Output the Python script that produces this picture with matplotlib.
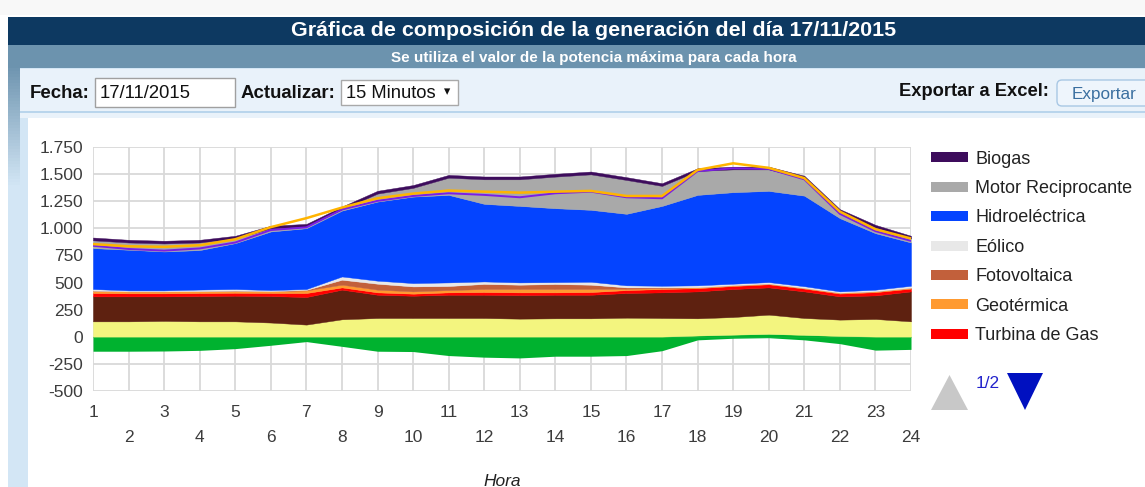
import matplotlib
matplotlib.use('Agg')
import matplotlib.pyplot as plt
from matplotlib.patches import Rectangle, Polygon, FancyBboxPatch
from matplotlib.lines import Line2D
from matplotlib.transforms import IdentityTransform
from matplotlib.ticker import FuncFormatter
from matplotlib.colors import to_rgb

W, H = 1145, 487
plt.rcParams['font.family'] = ['Liberation Sans', 'DejaVu Sans']

# ---------------- data ----------------
horas = list(range(1, 25))
intercambio_neg = [-135, -135, -133, -127, -111, -80, -46, -90, -135, -138, -175, -190,
                   -197, -181, -181, -175, -130, -30, -15, -10, -30, -65, -125, -118]
intercambio_pos = [0, 0, 0, 0, 0, 0, 0, 0, 0, 0, 0, 0,
                   0, 0, 0, 0, 0, 10, 18, 25, 16, 6, 0, 0]
serie_amarilla = [141, 141, 145, 141, 141, 130, 111, 160, 172, 172, 172, 172,
                  166, 169, 169, 175, 172, 159, 163, 178, 156, 151, 163, 141]
serie_marron = [231, 231, 227, 234, 237, 245, 255, 274, 215, 206, 215, 215,
                218, 218, 218, 228, 237, 249, 259, 252, 246, 215, 218, 277]
turbina_gas = [31, 28, 28, 28, 27, 28, 37, 21, 22, 19, 22, 25,
               25, 22, 25, 27, 31, 30, 28, 29, 26, 26, 30, 26]
geotermica = [22, 18, 18, 17, 20, 17, 24, 25, 25, 21, 21, 28,
              31, 31, 28, 12, 8, 8, 7, 6, 6, 8, 8, 8]
fotovoltaica = [0, 0, 0, 0, 0, 0, 5, 46, 55, 46, 38, 47,
                40, 46, 40, 13, 7, 0, 0, 0, 0, 0, 0, 0]
eolico = [15, 9, 9, 15, 15, 10, 8, 30, 28, 31, 33, 23,
          21, 18, 27, 19, 15, 18, 14, 14, 16, 12, 15, 18]
hidroelectrica = [378, 376, 360, 365, 424, 542, 562, 609, 731, 799, 809, 717,
                  707, 683, 665, 661, 738, 836, 846, 843, 837, 677, 522, 400]
motor_reciprocante = [72, 67, 74, 70, 43, 28, 15, 12, 74, 81, 159, 227,
                      246, 292, 328, 313, 185, 221, 211, 199, 159, 58, 52, 37]
biogas = [26, 25, 25, 25, 25, 25, 25, 25, 26, 26, 26, 26,
          26, 26, 26, 26, 25, 25, 25, 25, 25, 25, 25, 25]
linea_morada = [840, 810, 795, 815, 870, 985, 1010, 1175, 1255, 1300, 1325, 1310,
                1288, 1325, 1340, 1288, 1279, 1530, 1556, 1550, 1454, 1135, 975, 885]
linea_dorada = [855, 835, 830, 845, 900, 1012, 1095, 1193, 1279, 1322, 1350, 1340,
                1331, 1340, 1347, 1300, 1300, 1541, 1602, 1560, 1465, 1156, 993, 907]

leyenda_nombres = ['Biogas', 'Motor Reciprocante', 'Hidroeléctrica', 'Eólico',
                   'Fotovoltaica', 'Geotérmica', 'Turbina de Gas']
leyenda_colores = ['#3d0c5c', '#a9a9a9', '#0444ff', '#e8e8e8',
                   '#c2603b', '#ff9a30', '#ff0000']
y_ticks = [-500, -250, 0, 250, 500, 750, 1000, 1250, 1500, 1750]

C_VERDE = '#00b22f'
C_AMARILLO = '#f3f57f'
C_MARRON = '#5e2110'

fig = plt.figure(figsize=(W / 100, H / 100), dpi=100)
fig.patch.set_facecolor('white')
ID = IdentityTransform()


def rect(x, y, w, h, color, z=-10, **kw):
    fig.add_artist(Rectangle((x, H - y - h), w, h, transform=ID, facecolor=color,
                             edgecolor=kw.pop('ec', 'none'), lw=kw.pop('lw', 0),
                             zorder=z, **kw))


# ---------------- page decoration ----------------
rect(0, 0, W, 15, '#f8f8f8')
rect(8, 17, W, 28, '#0d3961')
rect(8, 45, W, 23, '#6c93ae')
rect(8, 68, W, H - 68, '#d3e6f5')
# left frame strip fading from steel blue to light blue
c0, c1 = to_rgb('#7096b1'), to_rgb('#d3e6f5')
n_steps = 40
for i in range(n_steps):
    f = i / (n_steps - 1)
    col = tuple(a + (b - a) * f for a, b in zip(c0, c1))
    rect(8, 68 + i * 3, 12, 3.2, col)
rect(20, 69, W, 43, '#e9f2fa')
rect(20, 111, W, 2, '#b9d5ec')
rect(20, 113, W, 5, '#e9f2fa')
rect(28, 118, W, H - 118, 'white')

rect(95, 78, 140, 29, 'white', z=-9, ec='#a0a0a0', lw=1)
rect(341, 80, 117, 25, 'white', z=-9, ec='#a9a9a9', lw=1)
fig.add_artist(FancyBboxPatch((1057, H - 106), 100, 26, boxstyle='round,pad=0,rounding_size=5',
                              transform=ID, facecolor='#eef5fc', edgecolor='#a8c8e4',
                              lw=1, zorder=-9))

renderer = fig.canvas.get_renderer()


def put_text(x0, x1, yc, s, size, **kw):
    t = fig.text(x0 / W, 1 - yc / H, s, fontsize=size, ha='left', va='center', **kw)
    bb = t.get_window_extent(renderer=renderer)
    t.set_fontsize(size * (x1 - x0) / bb.width)
    return t


put_text(291, 895, 31, 'Gráfica de composición de la generación del día 17/11/2015', 14,
         color='white', fontweight='bold')
put_text(391, 795, 58, 'Se utiliza el valor de la potencia máxima para cada hora', 9,
         color='white', fontweight='bold')
put_text(30, 90, 93, 'Fecha:', 13, color='#111111', fontweight='bold')
put_text(100, 191, 93, '17/11/2015', 12, color='#111111')
put_text(241, 336, 93, 'Actualizar:', 13, color='#111111', fontweight='bold')
put_text(346, 436, 93, '15 Minutos', 12, color='#111111')
fig.text(447 / W, 1 - 92 / H, '▾', fontsize=9, ha='center', va='center', color='#111111',
         family=['DejaVu Sans'])
put_text(899, 1049, 92, 'Exportar a Excel:', 13, color='#111111', fontweight='bold')
put_text(1072, 1137, 94, 'Exportar', 12, color='#3a6fa0')

# ---------------- chart ----------------
ax = fig.add_axes([93 / W, 1 - 390.7 / H, (911 - 93) / W, (390.7 - 147.3) / H])
ax.set_facecolor('white')
ax.set_xlim(1, 24)
ax.set_ylim(-500, 1750)

ax.fill_between(horas, 0, intercambio_neg, color=C_VERDE, lw=0)
ax.stackplot(horas, intercambio_pos, serie_amarilla, serie_marron, turbina_gas, geotermica,
             fotovoltaica, eolico, hidroelectrica, motor_reciprocante, biogas,
             colors=[C_VERDE, C_AMARILLO, C_MARRON, leyenda_colores[6], leyenda_colores[5],
                     leyenda_colores[4], leyenda_colores[3], leyenda_colores[2],
                     leyenda_colores[1], leyenda_colores[0]],
             edgecolor='face', linewidth=0.3)
ax.plot(horas, linea_morada, color='#7a1ee6', lw=1.4)
ax.plot(horas, linea_dorada, color='#ffb400', lw=1.8)

ax.set_yticks(y_ticks)
ax.yaxis.set_major_formatter(FuncFormatter(lambda v, p: f'{v:,.0f}'.replace(',', '.')))
impares = [h for h in horas if h % 2 == 1]
pares = [h for h in horas if h % 2 == 0]
ax.set_xticks(impares)
ax.set_xticklabels([str(h) for h in impares])
ax.set_xticks(pares, minor=True)
ax.set_xticklabels([str(h) for h in pares], minor=True)
ax.grid(True, which='both', color='#d9d9d9', lw=1.3)
ax.set_axisbelow(True)
for s in ax.spines.values():
    s.set_visible(False)
ax.tick_params(axis='both', which='both', length=0, labelsize=12.5, labelcolor='#3c3c3c')
ax.tick_params(axis='x', which='major', pad=10)
ax.tick_params(axis='x', which='minor', pad=28.5)
ax.tick_params(axis='y', pad=7)

fig.text(502 / W, 1 - 481 / H, 'Hora', style='italic', fontsize=12.5, ha='center',
         va='center', color='#222222')

# ---------------- legend ----------------
handles = [Line2D([], [], color=c, lw=7.2, solid_capstyle='butt') for c in leyenda_colores]
fig.legend(handles, leyenda_nombres, loc='upper left', bbox_to_anchor=(931 / W, 1 - 150.5 / H),
           frameon=False, fontsize=13, handlelength=2.05, handletextpad=0.39,
           labelspacing=0.69, borderpad=0, borderaxespad=0, labelcolor='#222222')

fig.add_artist(Polygon([(931, H - 410), (968, H - 410), (949.5, H - 375)], closed=True,
                       transform=ID, facecolor='#c8c8c8', edgecolor='none', zorder=3))
fig.add_artist(Polygon([(1007, H - 373), (1043, H - 373), (1025, H - 410)], closed=True,
                       transform=ID, facecolor='#0010c0', edgecolor='none', zorder=3))
put_text(976, 1000, 383, '1/2', 12, color='#2222cc')

fig.savefig('out.png', dpi=100)
